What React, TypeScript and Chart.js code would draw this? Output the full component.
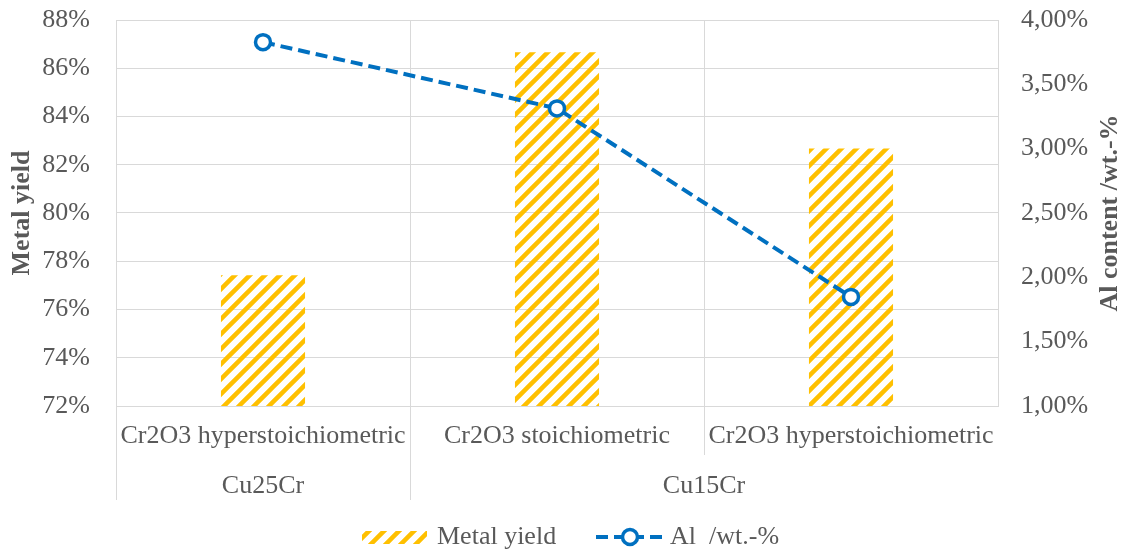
import { useEffect, useRef } from 'react';
import { Chart, registerables } from 'chart.js';

Chart.register(...registerables);

const categories = ['Cr2O3 hyperstoichiometric', 'Cr2O3 stoichiometric', 'Cr2O3 hyperstoichiometric'];
const groupLabels = ['Cu25Cr', 'Cu15Cr'];
const groupSizes = [1, 2];
const metalYield = [0.7742, 0.8666, 0.8267];
const alContent = [0.03828, 0.03313, 0.01848];
const barLabel = 'Metal yield';
const lineLabel = 'Al  /wt.-%';
const leftTitle = 'Metal yield';
const rightTitle = 'Al content /wt.-%';

const FONT = '"Liberation Serif", "Times New Roman", serif';
const TEXT = '#595959';
const GRID = '#D9D9D9';
const GOLD = '#FFC000';
const BLUE = '#0070C0';

function makeHatch(): CanvasPattern | string {
  const s = 15;
  const c = document.createElement('canvas');
  c.width = s;
  c.height = s;
  const g = c.getContext('2d');
  if (!g) return GOLD;
  g.strokeStyle = GOLD;
  g.lineWidth = 4.5;
  g.beginPath();
  g.moveTo(-s, s);
  g.lineTo(s, -s);
  g.moveTo(-s, 2 * s);
  g.lineTo(2 * s, -s);
  g.moveTo(0, 2 * s);
  g.lineTo(2 * s, 0);
  g.stroke();
  return g.createPattern(c, 'repeat') || GOLD;
}

export default function App() {
  const ref = useRef<HTMLCanvasElement | null>(null);

  useEffect(() => {
    document.body.style.margin = '0';
    const canvas = ref.current;
    if (!canvas) return;
    const hatch = makeHatch();

    const extras = {
      id: 'extras',
      afterDraw(chart: any) {
        const { ctx, chartArea, scales } = chart;
        const x = scales.x;
        const n = categories.length;
        const step = n > 1 ? x.getPixelForValue(1) - x.getPixelForValue(0) : chartArea.right - chartArea.left;
        const half = step / 2;
        const bottom = chartArea.bottom;
        ctx.save();
        ctx.strokeStyle = GRID;
        ctx.lineWidth = 1;
        const groupStarts = new Set<number>();
        let acc = 0;
        groupSizes.forEach((g) => {
          groupStarts.add(acc);
          acc += g;
        });
        for (let i = 0; i < n; i++) {
          const px = Math.round(x.getPixelForValue(i) - half) + 0.5;
          const len = groupStarts.has(i) ? 94 : 49;
          ctx.beginPath();
          ctx.moveTo(px, bottom);
          ctx.lineTo(px, bottom + len);
          ctx.stroke();
        }
        ctx.fillStyle = TEXT;
        ctx.font = `26px ${FONT}`;
        ctx.textAlign = 'center';
        ctx.textBaseline = 'middle';
        let start = 0;
        groupLabels.forEach((lab, gi) => {
          const end = start + groupSizes[gi] - 1;
          const cx = (x.getPixelForValue(start) + x.getPixelForValue(end)) / 2;
          ctx.fillText(lab, cx, bottom + 80);
          start = end + 1;
        });
        const midY = (chartArea.top + chartArea.bottom) / 2;
        ctx.font = `bold 26px ${FONT}`;
        ctx.save();
        ctx.translate(22, midY);
        ctx.rotate(-Math.PI / 2);
        ctx.fillText(leftTitle, 0, 0);
        ctx.restore();
        ctx.save();
        ctx.translate(1110, midY);
        ctx.rotate(-Math.PI / 2);
        ctx.fillText(rightTitle, 0, 0);
        ctx.restore();
        const ly = 537;
        ctx.fillStyle = hatch as any;
        ctx.fillRect(362, 531, 65, 13);
        ctx.fillStyle = TEXT;
        ctx.font = `26px ${FONT}`;
        ctx.textAlign = 'left';
        ctx.fillText(barLabel, 437, ly);
        ctx.strokeStyle = BLUE;
        ctx.lineWidth = 4;
        ctx.setLineDash([12, 6]);
        ctx.beginPath();
        ctx.moveTo(596, ly);
        ctx.lineTo(664, ly);
        ctx.stroke();
        ctx.setLineDash([]);
        ctx.beginPath();
        ctx.arc(630, ly, 7.5, 0, Math.PI * 2);
        ctx.fillStyle = '#FFFFFF';
        ctx.fill();
        ctx.lineWidth = 3.5;
        ctx.stroke();
        ctx.fillStyle = TEXT;
        ctx.fillText(lineLabel, 670, ly);
        ctx.restore();
      },
    };

    const fixV = (w: number) => (s: any) => {
      s.width = w;
      s.paddingTop = 0;
      s.paddingBottom = 0;
    };

    const chart = new Chart(canvas, {
      type: 'bar',
      data: {
        labels: categories,
        datasets: [
          {
            type: 'line',
            label: lineLabel,
            data: alContent,
            yAxisID: 'y1',
            borderColor: BLUE,
            borderWidth: 4,
            borderDash: [12, 6],
            pointRadius: 7.5,
            pointBorderWidth: 3.5,
            pointBackgroundColor: '#FFFFFF',
            pointBorderColor: BLUE,
            tension: 0,
            fill: false,
            order: 1,
          } as any,
          {
            type: 'bar',
            label: barLabel,
            data: metalYield,
            yAxisID: 'y',
            backgroundColor: hatch as any,
            borderWidth: 0,
            barPercentage: 0.286,
            categoryPercentage: 1,
            order: 2,
          } as any,
        ],
      },
      plugins: [extras],
      options: {
        responsive: false,
        animation: false,
        devicePixelRatio: 1,
        layout: { padding: { top: 20, bottom: 45, left: 0, right: 0 } },
        plugins: { legend: { display: false }, tooltip: { enabled: false } },
        scales: {
          x: {
            type: 'category',
            offset: true,
            grid: { display: true, offset: true, color: GRID, drawTicks: false },
            border: { display: true, color: GRID },
            ticks: {
              color: TEXT,
              font: { family: FONT, size: 26 },
              padding: 15,
              maxRotation: 0,
              minRotation: 0,
              autoSkip: false,
            },
            afterFit: (s: any) => {
              s.height = 100;
              s.paddingLeft = 0;
              s.paddingRight = 0;
            },
          },
          y: {
            position: 'left',
            min: 0.72,
            max: 0.88,
            grid: { color: GRID, drawTicks: false },
            border: { display: false },
            ticks: {
              stepSize: 0.02,
              color: TEXT,
              font: { family: FONT, size: 26 },
              padding: 26,
              callback: (v: any) => `${Math.round(Number(v) * 100)}%`,
            },
            afterFit: fixV(116),
          },
          y1: {
            position: 'right',
            min: 0.01,
            max: 0.04,
            grid: { drawOnChartArea: false, drawTicks: false },
            border: { display: false },
            ticks: {
              stepSize: 0.005,
              color: TEXT,
              font: { family: FONT, size: 26 },
              padding: 23,
              callback: (v: any) => `${(Number(v) * 100).toFixed(2).replace('.', ',')}%`,
            },
            afterFit: fixV(130),
          },
        },
      },
    });

    return () => {
      chart.destroy();
    };
  }, []);

  return (
    <div style={{ width: 1128, height: 551 }}>
      <canvas ref={ref} width={1128} height={551} style={{ display: 'block' }} />
    </div>
  );
}
